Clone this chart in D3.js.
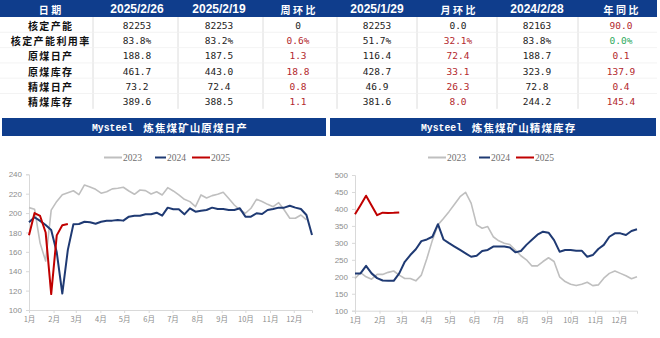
<!DOCTYPE html>
<html>
<head>
<meta charset="utf-8">
<script src="https://cdn.jsdelivr.net/npm/d3@7/dist/d3.min.js"></script>
<style>
  html, body { margin: 0; padding: 0; background: #fff; }
  svg { display: block; }
</style>
</head>
<body>
<svg id="chart" width="660" height="338"></svg>
<script>
// ---- Summary table ----
const tableHeaders = ["日期", "2025/2/26", "2025/2/19", "周环比", "2025/1/29", "月环比", "2024/2/28", "年同比"];
const rowLabels = ["核定产能", "核定产能利用率", "原煤日产", "原煤库存", "精煤日产", "精煤库存"];
const colCurrent = ["82253", "83.8%", "188.8", "461.7", "73.2", "389.6"];
const colPrevWeek = ["82253", "83.2%", "187.5", "443.0", "72.4", "388.5"];
const colWeekChg = ["0", "0.6%", "1.3", "18.8", "0.8", "1.1"];
const colPrevMonth = ["82253", "51.7%", "116.4", "428.7", "46.9", "381.6"];
const colMonthChg = ["0.0", "32.1%", "72.4", "33.1", "26.3", "8.0"];
const colPrevYear = ["82163", "83.8%", "188.7", "323.9", "72.8", "244.2"];
const colYearChg = ["90.0", "0.0%", "0.1", "137.9", "0.4", "145.4"];
// change sign: 1 = rise (red), 0 = flat (black), -1 = green
const weekChgTone = [0, 1, 1, 1, 1, 1];
const monthChgTone = [0, 1, 1, 1, 1, 1];
const yearChgTone = [1, -1, 1, 1, 1, 1];

// ---- Weekly series: raw coal daily output (10k t) ----
const outputTitle = "炼焦煤矿山原煤日产";
const output2023 = [205.6, 204, 169, 150.5, 203, 212, 219, 221, 223, 219, 229, 227, 224.5, 220.5, 222, 225,
  225.6, 226.6, 222.8, 219.4, 223.8, 223.2, 219.7, 222, 218.7, 226.2, 222.8, 218.7, 214.2, 211.8, 206.6, 218.7,
  215.5, 218, 219.4, 221.4, 215, 208.3, 203.2, 199.8, 205, 214.2, 212, 209, 206.6, 210.7, 203.2, 194.6, 194.6, 198, 193];
const output2024 = [190.5, 195.7, 192, 187.7, 182.5, 159.5, 117, 162, 188.4, 188.7, 191, 190.5, 189, 191, 192, 192.2,
  192.9, 192.2, 196.3, 197.3, 197.3, 198.7, 198.7, 200.4, 197.3, 205.6, 203.9, 203.9, 198.7, 204.9, 201.4, 202.5,
  203.2, 205.6, 204.2, 204.2, 203.2, 203.2, 204.9, 196.3, 196.3, 199.8, 199.1, 203.2, 204.2, 205.6, 205.6, 207.6,
  205.6, 204.2, 198, 177.4];
const output2025 = [177, 200, 197, 180, 116.4, 177, 187.5, 188.8];
const outputTicks = [100, 120, 140, 160, 180, 200, 220, 240];

// ---- Weekly series: clean coal inventory (10k t) ----
const stockTitle = "炼焦煤矿山精煤库存";
const stock2023 = [195, 212, 200, 193, 207, 207, 213, 217, 205, 195, 195, 188, 205, 254, 308, 353, 372, 392, 414, 436,
  449, 417, 353, 343, 348, 318, 306, 299, 295, 279, 262, 250, 232, 232, 245, 256, 245, 200, 186, 178, 174, 178, 184,
  174, 176, 196, 210, 217, 210, 203, 194, 200];
const stock2024 = [210, 210, 232, 210, 196, 189, 188, 188, 210, 244.2, 264, 281, 305, 310, 318, 355, 310, 299, 289,
  279, 269, 259, 262, 276, 279, 289, 289, 289, 286, 272, 276, 294, 309, 324, 333, 330, 308, 274, 279, 279, 277, 277,
  259, 264, 282, 294, 318, 328, 328, 323, 335, 340];
const stock2025 = [384, 411, 439, 410, 381.6, 389, 388, 388.5, 389.6];
const stockTicks = [100, 150, 200, 250, 300, 350, 400, 450, 500];

const brand = "Mysteel";
const seriesYears = ["2023", "2024", "2025"];
const seriesColors = ["#bfbfbf", "#1f3a73", "#c00000"];
const seriesWidths = [1.6, 2, 2];

const NAVY = "#0f3d8c";
const CJK = "'Noto Sans CJK SC', sans-serif";
const svg = d3.select("#chart");

// Lay out a CJK string one glyph at a time at a fixed pitch, centred on cx.
function spacedText(parent, str, cx, cy, pitch, style) {
  const chars = Array.from(str);
  const g = parent.append("g");
  g.selectAll("text").data(chars).join("text")
    .attr("x", (c, j) => cx + (j - (chars.length - 1) / 2) * pitch)
    .attr("y", cy)
    .attr("text-anchor", "middle")
    .attr("dominant-baseline", "central")
    .attr("font-family", CJK)
    .attr("font-weight", "bold")
    .attr("font-size", style.size)
    .attr("fill", style.fill)
    .text(c => c);
  return g;
}

// ---------------- table ----------------
const colCenters = [50, 137, 219, 298, 377, 458, 537, 621];
const colSeparators = [93, 178, 263, 337, 417, 497, 578];
const headH = 17, rowH = 15.3;
const table = svg.append("g");
table.append("rect").attr("x", 0).attr("y", 0).attr("width", 657).attr("height", headH).attr("fill", NAVY);
tableHeaders.forEach((h, i) => {
  const isCjk = /[\u4e00-\u9fff]/.test(h);
  if (isCjk) {
    spacedText(table, h, colCenters[i], headH / 2 + 0.5, 12.5, { size: 10, fill: "#fff" });
  } else {
    table.append("text")
      .attr("x", colCenters[i]).attr("y", headH / 2 + 0.5)
      .attr("text-anchor", "middle").attr("dominant-baseline", "central")
      .attr("fill", "#fff").attr("font-weight", "bold")
      .attr("font-family", "'Liberation Sans', Arial, sans-serif")
      .attr("font-size", 12)
      .text(h);
  }
});
colSeparators.forEach(x => {
  table.append("line").attr("x1", x).attr("x2", x).attr("y1", headH).attr("y2", headH + rowH * 6)
    .attr("stroke", "#dcdcdc").attr("stroke-width", 1);
});
for (let r = 1; r < 6; r++) {
  table.append("line").attr("x1", 0).attr("x2", 657).attr("y1", headH + rowH * r).attr("y2", headH + rowH * r)
    .attr("stroke", "#f0f0f0").attr("stroke-width", 0.8);
}
const toneColor = t => t > 0 ? "#b3282d" : (t < 0 ? "#2faa5e" : "#222");
const columns = [
  { vals: colCurrent, tone: null }, { vals: colPrevWeek, tone: null }, { vals: colWeekChg, tone: weekChgTone },
  { vals: colPrevMonth, tone: null }, { vals: colMonthChg, tone: monthChgTone },
  { vals: colPrevYear, tone: null }, { vals: colYearChg, tone: yearChgTone }
];
rowLabels.forEach((lab, r) => {
  const cy = headH + rowH * r + rowH / 2 + 0.5;
  spacedText(table, lab, colCenters[0], cy, 11.4, { size: 10, fill: "#111" });
  columns.forEach((c, ci) => {
    table.append("text")
      .attr("x", colCenters[ci + 1]).attr("y", cy)
      .attr("text-anchor", "middle").attr("dominant-baseline", "central")
      .attr("font-family", "'DejaVu Sans Mono', monospace").attr("font-size", 9.5)
      .attr("fill", c.tone ? toneColor(c.tone[r]) : "#222")
      .text(c.vals[r]);
  });
});

// ---------------- line charts ----------------
const base = new Date(2023, 0, 1);
const weekDate = i => d3.timeDay.offset(base, i * 7);

function drawPanel(opts) {
  const g = svg.append("g");
  // title bar
  g.append("rect").attr("x", opts.barX).attr("y", 118).attr("width", opts.barW).attr("height", 18).attr("fill", NAVY);
  g.append("text")
    .attr("x", opts.brandX).attr("y", 127.5)
    .attr("dominant-baseline", "central")
    .attr("fill", "#fff").attr("font-weight", "bold").attr("font-size", 10.5)
    .attr("font-family", "'Liberation Mono', monospace")
    .attr("textLength", 41).attr("lengthAdjust", "spacingAndGlyphs")
    .text(brand);
  spacedText(g, opts.title, opts.titleCx, 127.5, 11.6, { size: 10.5, fill: "#fff" });

  const x = d3.scaleTime()
    .domain([base, weekDate(51)])
    .range([opts.left, opts.right]);
  const y = d3.scaleLinear()
    .domain([opts.ticks[0], opts.ticks[opts.ticks.length - 1]])
    .range([opts.bottom, opts.top]);

  // axes
  const xAxis = d3.axisBottom(x)
    .ticks(d3.timeMonth.every(1))
    .tickFormat(d => (d.getMonth() + 1) + "月")
    .tickSize(3).tickPadding(4);
  const yAxis = d3.axisLeft(y).tickValues(opts.ticks).tickSize(3).tickPadding(4);

  const gx = g.append("g").attr("transform", `translate(0,${opts.bottom})`).call(xAxis);
  const gy = g.append("g").attr("transform", `translate(${opts.left},0)`).call(yAxis);
  [gx, gy].forEach(a => {
    a.selectAll("path").attr("stroke", "#d9d9d9");
    a.selectAll("line").attr("stroke", "#d9d9d9");
    a.selectAll("text").attr("fill", "#8c8c8c").attr("font-size", 8)
      .attr("font-family", "'Liberation Sans', Arial, sans-serif");
  });
  gx.selectAll("text").attr("font-family", CJK).attr("font-size", 7.5);

  const line = d3.line()
    .defined(d => d != null)
    .x((d, i) => x(weekDate(i)))
    .y(d => y(d));

  opts.series.forEach((s, k) => {
    g.append("path").datum(s)
      .attr("fill", "none")
      .attr("stroke", seriesColors[k])
      .attr("stroke-width", seriesWidths[k])
      .attr("stroke-linejoin", "round")
      .attr("d", line);
  });

  // legend
  const lg = g.append("g").attr("transform", `translate(${opts.legendX},${157.5})`);
  let cx = 0;
  seriesYears.forEach((yr, k) => {
    const len = k === 1 ? 11 : 18;
    lg.append("line").attr("x1", cx).attr("x2", cx + len).attr("y1", 0).attr("y2", 0)
      .attr("stroke", seriesColors[k]).attr("stroke-width", 2);
    lg.append("text").attr("x", cx + len + 1).attr("y", 0)
      .attr("dominant-baseline", "central")
      .attr("font-family", "'Liberation Serif', 'Times New Roman', serif")
      .attr("font-size", 9.5).attr("fill", "#6e6e6e").text(yr);
    cx += len + 1 + 20 + (k === 0 ? 12 : 5);
  });
}

drawPanel({
  title: outputTitle, barX: 2, barW: 324, brandX: 92, titleCx: 195,
  left: 29, right: 312, top: 174.3, bottom: 310,
  ticks: outputTicks, series: [output2023, output2024, output2025],
  legendX: 104
});
drawPanel({
  title: stockTitle, barX: 330, barW: 326, brandX: 421, titleCx: 523.5,
  left: 355, right: 637, top: 175, bottom: 310.7,
  ticks: stockTicks, series: [stock2023, stock2024, stock2025],
  legendX: 428
});
</script>
</body>
</html>
